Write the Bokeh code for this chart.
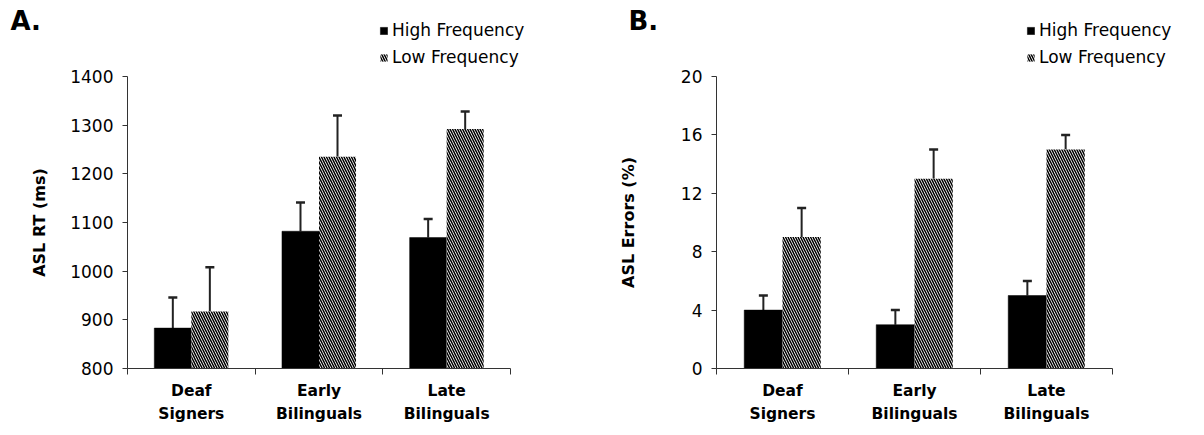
import numpy as np
from bokeh.plotting import figure
from bokeh.models import (ColumnDataSource, FixedTicker, Whisker, TeeHead,
                          Legend, LegendItem, Range1d, Label)
from bokeh.layouts import row, column
from bokeh.embed import file_html
from bokeh.resources import INLINE

# ---------------- data ----------------
groups = ["Deaf\nSigners", "Early\nBilinguals", "Late\nBilinguals"]
series = ["High Frequency", "Low Frequency"]

rt_high = [883, 1082, 1069]
rt_high_se = [63, 59, 38]
rt_low = [917, 1235, 1292]
rt_low_se = [91, 85, 36]
rt_ticks = [800, 900, 1000, 1100, 1200, 1300, 1400]

err_high = [4, 3, 5]
err_high_se = [1, 1, 1]
err_low = [9, 13, 15]
err_low_se = [2, 2, 1]
err_ticks = [0, 4, 8, 12, 16, 20]

FONT = "DejaVu Sans"
W = 1204
HEAD = 68
H = 435 - HEAD
TOP = 8
BOTTOM = 67

HIGH_STYLE = dict(fill_color="black", line_color="black", line_width=0.5)
LOW_STYLE = dict(fill_color="white", line_color=None, hatch_pattern="\\",
                 hatch_color="black", hatch_scale=5, hatch_weight=1.5)


def panel(ylabel, ticks, high, high_se, low, low_se, width, left, axis_end,
          label_standoff):
    y0, y1 = ticks[0], ticks[-1]
    x_end = 3.0 * (width - left) / (axis_end - left)

    p = figure(width=width, height=H, output_backend="svg", toolbar_location=None,
               x_range=Range1d(0, x_end), y_range=Range1d(y0, y1),
               min_border_left=left, min_border_right=0, min_border_top=TOP,
               min_border_bottom=BOTTOM)
    p.outline_line_color = None
    p.xgrid.visible = False
    p.ygrid.visible = False
    p.background_fill_color = "white"
    p.border_fill_color = "white"

    idx = np.arange(len(groups))
    bw = 0.29
    xh = idx + 0.5 - bw / 2
    xl = idx + 0.5 + bw / 2
    src_h = ColumnDataSource(dict(x=xh, top=high,
                                  upper=[v + e for v, e in zip(high, high_se)]))
    src_l = ColumnDataSource(dict(x=xl, top=low,
                                  upper=[v + e for v, e in zip(low, low_se)]))

    p.vbar(x="x", top="top", bottom=y0, width=bw, source=src_h, **HIGH_STYLE)
    p.vbar(x="x", top="top", bottom=y0, width=bw, source=src_l, **LOW_STYLE)

    for src in (src_h, src_l):
        w = Whisker(base="x", lower="top", upper="upper", source=src,
                    line_color="#222222", line_width=2,
                    upper_head=TeeHead(size=9, line_color="#222222", line_width=2.5),
                    lower_head=None)
        p.add_layout(w)

    xa = p.xaxis[0]
    xa.ticker = FixedTicker(ticks=list(idx + 0.5), minor_ticks=[0, 1, 2, 3])
    xa.major_label_overrides = {float(i + 0.5): g for i, g in enumerate(groups)}
    xa.bounds = (0, 3)
    xa.major_tick_out = 0
    xa.major_tick_in = 0
    xa.minor_tick_out = 6
    xa.minor_tick_in = 0
    xa.axis_line_color = "#333333"
    xa.minor_tick_line_color = "#333333"
    xa.major_label_text_font = FONT
    xa.major_label_text_font_style = "bold"
    xa.major_label_text_font_size = "15.5px"
    xa.major_label_text_color = "black"
    xa.major_label_text_line_height = 1.28
    xa.major_label_standoff = 7

    ya = p.yaxis[0]
    ya.ticker = FixedTicker(ticks=ticks, minor_ticks=[])
    ya.bounds = (y0, y1)
    ya.major_tick_out = 5
    ya.major_tick_in = 0
    ya.minor_tick_out = 0
    ya.minor_tick_in = 0
    ya.axis_line_color = "#333333"
    ya.major_tick_line_color = "#333333"
    ya.major_label_text_font = FONT
    ya.major_label_text_font_size = "17px"
    ya.major_label_text_color = "black"
    ya.major_label_standoff = 9
    ya.axis_label = ylabel
    ya.axis_label_text_font = FONT
    ya.axis_label_text_font_style = "bold"
    ya.axis_label_text_font_size = "16px"
    ya.axis_label_text_color = "black"
    ya.axis_label_standoff = label_standoff
    return p


# ---------------- header strip: panel letters and legends ----------------
head = figure(width=W, height=HEAD, output_backend="svg", toolbar_location=None,
              x_range=Range1d(0, W), y_range=Range1d(0, HEAD),
              x_axis_location=None, y_axis_location=None,
              min_border=0)
head.outline_line_color = None
head.xgrid.visible = False
head.ygrid.visible = False

# legend-only renderers: a single zero-height bar left of the visible strip
proxy = ColumnDataSource(dict(x=[-100], top=[0]))
leg_h = head.vbar(x="x", top="top", width=1, source=proxy, **HIGH_STYLE)
leg_l = head.vbar(x="x", top="top", width=1, source=proxy, **LOW_STYLE)

for letter, lx in (("A.", 10), ("B.", 628)):
    head.add_layout(Label(x=lx, y=HEAD - 20, text=letter, text_font=FONT,
                          text_font_style="bold", text_font_size="26px",
                          text_baseline="middle", text_align="left",
                          text_color="black"))

for lx in (379, 1026):
    lg = Legend(items=[LegendItem(label=series[0], renderers=[leg_h]),
                       LegendItem(label=series[1], renderers=[leg_l])],
                orientation="vertical", location=(lx, 1),
                glyph_width=9, glyph_height=9, label_height=16,
                label_standoff=4, spacing=7, padding=0, margin=0,
                border_line_color=None, background_fill_alpha=0,
                label_text_font=FONT, label_text_font_size="17px",
                label_text_color="black")
    head.add_layout(lg)

pA = panel("ASL RT (ms)", rt_ticks, rt_high, rt_high_se, rt_low, rt_low_se,
           width=604, left=127, axis_end=510, label_standoff=18)
pB = panel("ASL Errors (%)", err_ticks, err_high, err_high_se, err_low, err_low_se,
           width=600, left=112, axis_end=508, label_standoff=40)

layout = column(head, row(pA, pB))
open("out.html", "w").write(file_html(layout, INLINE))
